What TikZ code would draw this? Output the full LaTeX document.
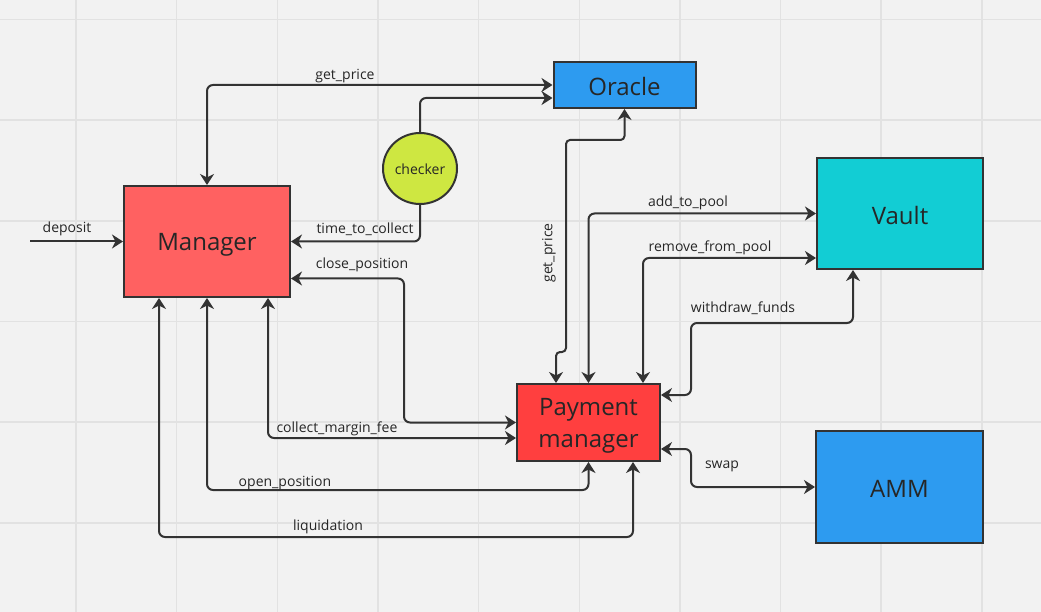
\documentclass[tikz,border=0pt]{standalone}
\usepackage{fontspec}
\setmainfont{Open Sans}
\usetikzlibrary{arrows.meta,shapes.geometric,calc}
\definecolor{bg}{HTML}{F2F2F2}
\definecolor{gridc}{HTML}{E2E2E2}
\definecolor{ink}{HTML}{333333}
\definecolor{txt}{HTML}{262626}
\definecolor{manc}{HTML}{FF6161}
\definecolor{pmc}{HTML}{FF3F3F}
\definecolor{orac}{HTML}{2D9BF0}
\definecolor{vaultc}{HTML}{12CDD4}
\definecolor{chkc}{HTML}{CEE741}
\newcommand{\lowtxt}[2][3pt]{\raisebox{-#1}[\height][\depth]{#2}}
\tikzset{
  box/.style={draw=ink, line width=2pt, rectangle, inner sep=0pt, text=txt, font=\fontsize{24}{29}\selectfont, align=center},
  lbl/.style={text=txt, font=\fontsize{14}{16}\selectfont, inner sep=0pt},
  conn/.style={draw=ink, line width=2pt, rounded corners=6pt},
  one/.style={conn, -{Stealth[length=11pt,width=14pt,inset=3.5pt]}},
  two/.style={conn, {Stealth[length=11pt,width=14pt,inset=3.5pt]}-{Stealth[length=11pt,width=14pt,inset=3.5pt]}}
}
\begin{document}
\begin{tikzpicture}[x=1pt,y=-1pt]
\fill[bg] (0,0) rectangle (1041,612);
\useasboundingbox (0,0) rectangle (1041,612);
% grid
\foreach \i in {0,...,9} {
  \draw[gridc, line width=1.5pt] ({76+100.65*\i},0) -- ({76+100.65*\i},612);
}
\foreach \j in {0,...,5} {
  \draw[gridc, line width=1.5pt] (0,{19.5+100.65*\j}) -- (1041,{19.5+100.65*\j});
}
% nodes
\node[box, fill=manc, minimum width=166pt, minimum height=111pt] (man) at (207,241.5) {\lowtxt[3pt]{Manager}};
\node[box, fill=orac, minimum width=142pt, minimum height=46pt] (ora) at (624.5,85) {\lowtxt[2pt]{Oracle}};
\node[box, fill=vaultc, minimum width=166pt, minimum height=111pt] (vault) at (900,213.5) {\lowtxt[2pt]{Vault}};
\node[box, fill=pmc, minimum width=143pt, minimum height=77pt] (pm) at (588.5,422.5) {\lowtxt[3pt]{\fontsize{24}{32}\selectfont\begin{tabular}{@{}c@{}}Payment\\manager\end{tabular}}};
\node[box, fill=orac, minimum width=167pt, minimum height=112pt] (amm) at (899.5,487) {\lowtxt[2pt]{AMM}};
\node[draw=ink, line width=2pt, ellipse, fill=chkc, minimum width=74pt, minimum height=71pt, inner sep=0pt, text=txt, font=\fontsize{14}{16}\selectfont] (chk) at (420,168.5) {\lowtxt[1pt]{checker}};
\coordinate (dep) at (30,241.5);
% connectors
\draw[two] (man.north) |- (ora.west);
\draw[one] (chk.north) |- ([yshift=-13pt]ora.west);
\draw[one] (chk.south) |- (man.east);
\draw[one] (dep) -- (man.west);
\draw[two] ([yshift=-37pt]man.east) -| (404,350) |- (pm.west);
\draw[two] ([xshift=61pt]man.south) |- ([yshift=-15.5pt]pm.west);
\draw[two] (man.south) |- (400,490) -| (pm.south);
\draw[two] ([xshift=-48pt]man.south) |- (400,537) -| ([xshift=44.5pt]pm.south);
\draw[two, rounded corners=4pt] (ora.south) |- (566,140) |- (556,352) -- ([xshift=-32.5pt]pm.north);
\draw[two] (pm.north) |- (vault.west);
\draw[two] ([xshift=54.5pt]pm.north) |- ([yshift=-44.5pt]vault.west);
\draw[two] ([yshift=27.5pt]pm.east) -| (691,350) |- (800,323) -| ([xshift=-47pt]vault.south);
\draw[two] ([yshift=-26.5pt]pm.east) -| (691,470) |- (amm.west);
% labels
\node[lbl] (l1) at (345,76) {get\_price};
\node[lbl] (l2) at (365,229) {time\_to\_collect};
\node[lbl] (l3) at (67,229) {deposit};
\node[lbl] (l4) at (362,265) {close\_position};
\node[lbl] (l5) at (337,429) {collect\_margin\_fee};
\node[lbl] (l6) at (285,483) {open\_position};
\node[lbl] (l7) at (328,527) {liquidation};
\node[lbl, rotate=90] (l8) at (549,253) {get\_price};
\node[lbl] (l9) at (688,203) {add\_to\_pool};
\node[lbl] (l10) at (710,248) {remove\_from\_pool};
\node[lbl] (l11) at (743,308) {withdraw\_funds};
\node[lbl] (l12) at (722,466) {swap};
\end{tikzpicture}
\end{document}
